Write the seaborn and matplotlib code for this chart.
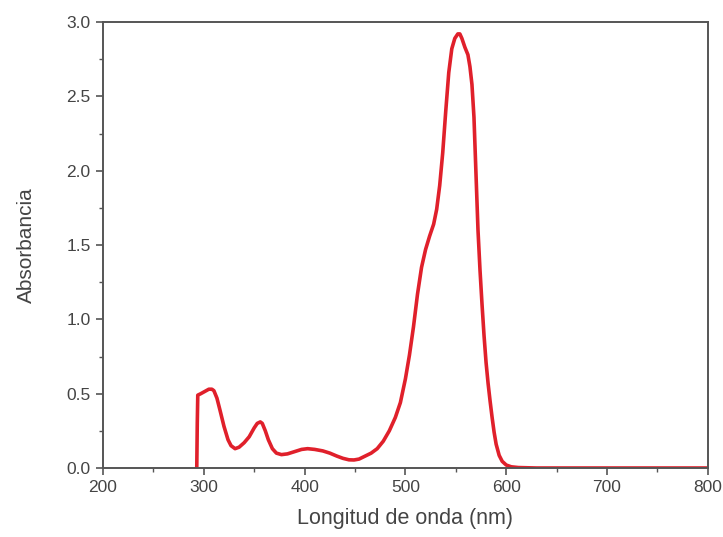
import matplotlib
matplotlib.use("Agg")
import matplotlib.pyplot as plt
import seaborn as sns
import pandas as pd
from matplotlib.ticker import MultipleLocator

wavelength = [293, 293.5, 294, 297, 301, 305, 308, 310, 313, 316, 320, 324, 327, 331, 335,
              340, 345, 350, 353, 356, 358, 361, 364, 368, 372, 377, 383, 390, 397, 403,
              410, 418, 425, 432, 438, 444, 449, 454, 460, 466, 472, 478, 484, 490, 495,
              500, 504, 508, 512, 516, 520, 524, 528, 531, 534, 537, 540, 543, 546, 549,
              552, 554, 556, 559, 562, 564, 566, 568, 570, 572, 574, 576, 578, 580, 582,
              584, 586, 588, 590, 593, 596, 600, 605, 612, 630, 700, 800]
absorbance = [0.0, 0.30, 0.49, 0.50, 0.515, 0.53, 0.53, 0.52, 0.47, 0.39, 0.28, 0.19, 0.15, 0.13, 0.14,
              0.17, 0.21, 0.27, 0.30, 0.31, 0.30, 0.25, 0.19, 0.13, 0.10, 0.09, 0.095, 0.11, 0.125, 0.13,
              0.125, 0.115, 0.10, 0.08, 0.065, 0.055, 0.054, 0.06, 0.08, 0.10, 0.13, 0.18, 0.25, 0.34, 0.44,
              0.60, 0.76, 0.95, 1.17, 1.35, 1.47, 1.56, 1.64, 1.74, 1.90, 2.12, 2.40, 2.66, 2.82, 2.89,
              2.92, 2.92, 2.89, 2.83, 2.78, 2.70, 2.58, 2.36, 1.98, 1.60, 1.33, 1.10, 0.89, 0.71, 0.57,
              0.45, 0.34, 0.24, 0.16, 0.085, 0.045, 0.02, 0.008, 0.003, 0.0, 0.0, 0.0]

x_label = "Longitud de onda (nm)"
y_label = "Absorbancia"

sns.set_style("ticks")
plt.rcParams['font.family'] = ['Liberation Sans', 'DejaVu Sans']

df = pd.DataFrame({"x": wavelength, "y": absorbance})

fig = plt.figure(figsize=(7.23, 5.37), dpi=100)
ax = fig.add_axes([0.1425, 0.1285, 0.979 - 0.1425, 0.959 - 0.1285])
sns.lineplot(data=df, x="x", y="y", ax=ax, color="#e0202b", linewidth=2.6, sort=False)

ax.set_xlim(200, 800)
ax.set_ylim(0, 3.0)
ax.xaxis.set_major_locator(MultipleLocator(100))
ax.xaxis.set_minor_locator(MultipleLocator(50))
ax.yaxis.set_major_locator(MultipleLocator(0.5))
ax.yaxis.set_minor_locator(MultipleLocator(0.25))
ax.yaxis.set_major_formatter(matplotlib.ticker.FormatStrFormatter('%.1f'))

textc = "#444444"
for s in ax.spines.values():
    s.set_color("#555555")
    s.set_linewidth(1.4)
ax.tick_params(axis='both', which='major', direction='out', length=5, width=1.2,
               colors="#555555", labelcolor=textc, labelsize=12.5, pad=4)
ax.tick_params(axis='both', which='minor', direction='out', length=3, width=1.0, colors="#555555")
ax.set_xlabel(x_label, fontsize=15.5, color=textc, labelpad=9)
ax.set_ylabel(y_label, fontsize=15, color=textc, labelpad=22)

fig.savefig("out.png", dpi=100)
